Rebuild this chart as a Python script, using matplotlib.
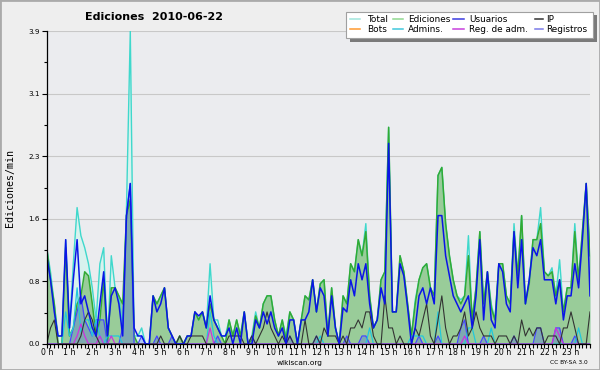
import numpy as np
import matplotlib
matplotlib.use("Agg")
import matplotlib.pyplot as plt
from matplotlib.patches import Rectangle
from matplotlib.lines import Line2D

# edits per minute, one value every 10 minutes (144 slots)
total = [
    1.2, 0.9, 0.5, 0.1, 0.1, 1.3,
    0.2, 1.0, 1.7, 1.35, 1.2, 1.0,
    0.7, 0.3, 1.0, 1.2, 0.0, 1.1,
    0.7, 0.6, 0.2, 1.7, 3.9, 0.1,
    0.1, 0.2, 0.0, 0.0, 0.6, 0.5,
    0.6, 0.7, 0.2, 0.1, 0.0, 0.1,
    0.0, 0.1, 0.1, 0.4, 0.3, 0.4,
    0.2, 1.0, 0.3, 0.3, 0.1, 0.1,
    0.3, 0.1, 0.3, 0.1, 0.4, 0.0,
    0.1, 0.4, 0.2, 0.5, 0.6, 0.6,
    0.3, 0.1, 0.3, 0.1, 0.4, 0.3,
    0.0, 0.3, 0.6, 0.55, 0.8, 0.4,
    0.75, 0.8, 0.1, 0.7, 0.2, 0.0,
    0.6, 0.5, 1.0, 0.9, 1.3, 1.1,
    1.5, 0.6, 0.2, 0.3, 0.8, 0.9,
    2.7, 0.4, 0.4, 1.1, 0.9, 0.5,
    0.1, 0.55, 0.8, 0.95, 1.0, 0.7,
    0.6, 2.1, 2.2, 1.5, 1.1, 0.8,
    0.6, 0.55, 0.6, 1.35, 0.3, 0.7,
    1.4, 0.5, 0.9, 0.5, 0.3, 1.0,
    1.0, 0.6, 0.5, 1.5, 0.85, 1.6,
    0.5, 0.8, 1.3, 1.3, 1.7, 0.9,
    0.85, 0.95, 0.6, 1.05, 0.4, 0.7,
    0.7, 1.5, 0.8, 1.4, 2.0, 1.1,
]
ediciones = [
    1.2, 0.8, 0.5, 0.0, 0.0, 1.2,
    0.1, 0.2, 0.5, 0.6, 0.9, 0.85,
    0.5, 0.1, 0.3, 0.8, 0.0, 0.7,
    0.7, 0.6, 0.5, 1.6, 1.8, 0.1,
    0.0, 0.0, 0.0, 0.0, 0.6, 0.5,
    0.6, 0.7, 0.2, 0.1, 0.0, 0.1,
    0.0, 0.1, 0.1, 0.4, 0.3, 0.4,
    0.2, 0.5, 0.3, 0.2, 0.1, 0.0,
    0.3, 0.1, 0.3, 0.1, 0.4, 0.0,
    0.05, 0.35, 0.2, 0.5, 0.6, 0.6,
    0.3, 0.1, 0.3, 0.05, 0.4, 0.3,
    0.0, 0.3, 0.6, 0.55, 0.8, 0.4,
    0.75, 0.8, 0.1, 0.7, 0.2, 0.0,
    0.6, 0.5, 1.0, 0.9, 1.3, 1.1,
    1.4, 0.6, 0.2, 0.3, 0.8, 0.9,
    2.7, 0.4, 0.4, 1.1, 0.9, 0.5,
    0.1, 0.5, 0.8, 0.95, 1.0, 0.7,
    0.6, 2.1, 2.2, 1.5, 1.1, 0.8,
    0.6, 0.5, 0.6, 1.1, 0.3, 0.7,
    1.4, 0.5, 0.9, 0.45, 0.3, 1.0,
    1.0, 0.6, 0.5, 1.4, 0.85, 1.6,
    0.5, 0.75, 1.3, 1.3, 1.5, 0.9,
    0.85, 0.9, 0.6, 0.8, 0.4, 0.7,
    0.7, 1.4, 0.8, 1.4, 2.0, 1.1,
]
usuarios = [
    1.1, 0.8, 0.4, 0.1, 0.1, 1.3,
    0.2, 0.8, 1.3, 0.5, 0.6, 0.4,
    0.2, 0.1, 0.5, 0.9, 0.1, 0.6,
    0.7, 0.5, 0.1, 1.6, 2.0, 0.2,
    0.1, 0.1, 0.0, 0.0, 0.6, 0.4,
    0.5, 0.7, 0.2, 0.1, 0.0, 0.0,
    0.0, 0.1, 0.1, 0.4, 0.35, 0.4,
    0.2, 0.6, 0.3, 0.2, 0.1, 0.1,
    0.2, 0.0, 0.2, 0.0, 0.4, 0.0,
    0.0, 0.3, 0.2, 0.4, 0.25, 0.4,
    0.2, 0.1, 0.2, 0.0, 0.3, 0.3,
    0.0, 0.3, 0.3, 0.4, 0.8, 0.4,
    0.7, 0.6, 0.1, 0.6, 0.2, 0.0,
    0.45, 0.4, 0.8, 0.6, 1.0, 0.8,
    1.0, 0.5, 0.2, 0.3, 0.7, 0.5,
    2.5, 0.4, 0.4, 1.0, 0.85, 0.45,
    0.0, 0.2, 0.6, 0.7, 0.5, 0.7,
    0.5, 1.6, 1.6, 1.1, 0.85, 0.6,
    0.5, 0.4, 0.5, 0.6, 0.2, 0.6,
    1.3, 0.3, 0.9, 0.3, 0.2, 1.0,
    0.9, 0.5, 0.4, 1.4, 0.7, 1.3,
    0.5, 0.8, 1.2, 1.1, 1.3, 0.8,
    0.8, 0.8, 0.5, 0.8, 0.3, 0.6,
    0.6, 1.0, 0.7, 1.3, 2.0, 0.6,
]
ip = [
    0.0, 0.2, 0.3, 0.0, 0.0, 0.0,
    0.0, 0.0, 0.0, 0.1, 0.3, 0.4,
    0.3, 0.1, 0.0, 0.0, 0.0, 0.0,
    0.0, 0.0, 0.0, 0.0, 0.0, 0.0,
    0.0, 0.0, 0.0, 0.0, 0.0, 0.0,
    0.1, 0.0, 0.0, 0.0, 0.0, 0.1,
    0.0, 0.0, 0.1, 0.1, 0.1, 0.1,
    0.0, 0.0, 0.0, 0.0, 0.0, 0.0,
    0.1, 0.1, 0.1, 0.1, 0.0, 0.0,
    0.1, 0.0, 0.1, 0.2, 0.4, 0.2,
    0.1, 0.0, 0.1, 0.0, 0.1, 0.0,
    0.0, 0.0, 0.3, 0.0, 0.0, 0.1,
    0.0, 0.2, 0.1, 0.1, 0.1, 0.0,
    0.1, 0.0, 0.2, 0.2, 0.3, 0.2,
    0.4, 0.4, 0.1, 0.0, 0.0, 0.6,
    0.2, 0.2, 0.0, 0.1, 0.0, 0.0,
    0.0, 0.2, 0.1, 0.3, 0.5, 0.1,
    0.0, 0.3, 0.6, 0.2, 0.0, 0.1,
    0.1, 0.2, 0.4, 0.1, 0.2, 0.4,
    0.2, 0.1, 0.1, 0.1, 0.0, 0.1,
    0.1, 0.1, 0.0, 0.1, 0.0, 0.3,
    0.1, 0.2, 0.1, 0.2, 0.2, 0.0,
    0.1, 0.1, 0.1, 0.0, 0.2, 0.2,
    0.4, 0.2, 0.0, 0.0, 0.0, 0.4,
]
bots = [0.0] * 144

# sparse series: {slot: value}
admins_pts = {5: 0.4, 6: 0.1, 7: 0.2, 8: 0.7, 9: 0.15, 10: 0.3, 11: 0.3, 12: 0.1,
              13: 0.3, 14: 0.1, 16: 0.1, 17: 0.1, 18: 0.1, 19: 0.1, 43: 0.4, 44: 0.1,
              72: 0.1, 85: 0.2, 96: 0.1, 97: 0.1, 98: 0.1, 99: 0.1, 103: 0.4,
              111: 0.2, 112: 0.2, 117: 0.2, 140: 0.2}
registros_pts = {7: 0.2, 8: 0.4, 9: 0.6, 10: 0.3, 11: 0.2, 12: 0.1, 13: 0.3, 14: 0.3,
                 15: 0.3, 20: 0.2, 21: 1.6, 22: 2.0, 25: 0.1, 29: 0.1, 33: 0.1,
                 45: 0.1, 54: 0.1, 64: 0.1, 71: 0.1, 79: 0.1, 83: 0.1, 84: 0.1,
                 98: 0.1, 103: 0.1, 109: 0.2, 110: 0.3, 115: 0.1, 123: 0.1,
                 129: 0.2, 130: 0.2, 134: 0.2, 135: 0.2, 139: 0.1}
regadm_pts = {8: 0.1, 9: 0.25, 10: 0.1, 14: 0.1, 17: 0.1, 43: 0.2, 110: 0.1,
              134: 0.2, 135: 0.1}

hours = list(range(24))
ymax = 3.9


def dense(pts, n=144):
    arr = np.zeros(n)
    for k, v in pts.items():
        arr[k] = v
    return arr


admins = dense(admins_pts)
registros = dense(registros_pts)
regadm = dense(regadm_pts)
t = np.arange(144)

W, H = 600, 370
fig = plt.figure(figsize=(6, 3.7), dpi=100, facecolor="#eeeeee")
ax = fig.add_axes([46.7 / W, 1 - 344 / H, (590 - 46.7) / W, (344 - 31) / H])
ax.set_facecolor("#ebecef")

# fills
ax.fill_between(t, total, color="#d8f2ee", lw=0, zorder=1)
ax.fill_between(t, ediciones, color="#99cc99", lw=0, zorder=1.1)
ax.fill_between(t, registros, color="#2a3cff", alpha=0.24, lw=0, zorder=1.2)

# lines
ax.plot(t, bots, color="#ff9933", lw=1, zorder=1.3)
ax.plot(t, total, color="#3fd8cc", lw=1.0, zorder=2)
ax.plot(t, ediciones, color="#33aa33", lw=1.1, zorder=2.1)
ax.plot(t, registros, color="#4646ff", lw=0.9, zorder=2.2)
ax.plot(t, admins, color="#22c8dc", lw=0.9, zorder=2.3)
ax.plot(t, regadm, color="#cc33dd", lw=0.9, zorder=2.3)
ax.plot(t, ip, color="#333333", lw=0.8, zorder=2.4)
ax.plot(t, usuarios, color="#0a14e8", lw=1.1, zorder=2.5)

ax.set_xlim(0, 143)
ax.set_ylim(0, ymax)

yt = np.linspace(0, ymax, 6)
ax.set_yticks(yt)
ax.set_yticklabels([f"{v:.1f}" for v in yt])
ax.set_yticks((yt[:-1] + yt[1:]) / 2, minor=True)
ax.set_xticks([h * 6 for h in hours])
ax.set_xticklabels([f"{h} h" for h in hours])
ax.set_xticks(t, minor=True)

ax.grid(axis="y", color="#c8c8c8", lw=0.8, zorder=0.5)
ax.set_axisbelow(True)
for s in ("top", "right"):
    ax.spines[s].set_visible(False)
for s in ("left", "bottom"):
    ax.spines[s].set_color("black")
    ax.spines[s].set_linewidth(0.9)
    ax.spines[s].set_zorder(3)

ax.tick_params(axis="y", which="major", length=3.6, width=0.8, labelsize=5.2, pad=1.5)
ax.tick_params(axis="y", which="minor", length=2.2, width=0.8)
ax.tick_params(axis="x", which="both", length=2.6, width=0.8, labelsize=5.6, pad=0.3)

# texts
fig.text(154 / W, 1 - 16.5 / H, "Ediciones  2010-06-22", ha="center", va="center",
         fontsize=8, fontweight="bold")
fig.text(10 / W, 1 - 188 / H, "Ediciones/min", rotation=90, ha="center", va="center",
         fontsize=7.2, family="DejaVu Sans Mono")
fig.text(300 / W, 1 - 362.5 / H, "wikiscan.org", ha="center", va="center", fontsize=5.3)
fig.text(568.5 / W, 1 - 362.5 / H, "CC BY-SA 3.0", ha="center", va="center", fontsize=4.2)

# legend drawn by hand
def px_rect(x0, y0, x1, y1, **kw):
    return Rectangle((x0 / W, 1 - y1 / H), (x1 - x0) / W, (y1 - y0) / H,
                     transform=fig.transFigure, **kw)

fig.patches.append(px_rect(350, 15.5, 597, 42, facecolor="#7a7a7a", edgecolor="none"))
fig.patches.append(px_rect(346, 11.7, 593, 38.3, facecolor="white", edgecolor="#a0a0a0", lw=0.8))

legend_rows = [
    [("Total", "#a0e6dc"), ("Ediciones", "#90d890"), ("Usuarios", "#3a3ae0"), ("IP", "#333333")],
    [("Bots", "#ff9a30"), ("Admins.", "#40c8dc"), ("Reg. de adm.", "#c840dc"), ("Registros", "#7a7ae8")],
]
cols = [(350, 360, 366.7), (392.7, 402.7, 408.3), (453.3, 464, 469.3), (535, 543, 545.7)]
for r, row in enumerate(legend_rows):
    yy = 19 + r * 10
    for (name, col), (hx0, hx1, tx) in zip(row, cols):
        fig.lines.append(Line2D([hx0 / W, hx1 / W], [1 - yy / H] * 2, color=col, lw=1.1,
                                transform=fig.transFigure))
        fig.text(tx / W, 1 - yy / H, name, ha="left", va="center", fontsize=6.4)

# frame around the picture
fig.patches.append(Rectangle((0, 0), 1, 1, transform=fig.transFigure, fill=False,
                             edgecolor="#aaaaaa", lw=2))

fig.savefig("out.png", dpi=100, facecolor=fig.get_facecolor())
